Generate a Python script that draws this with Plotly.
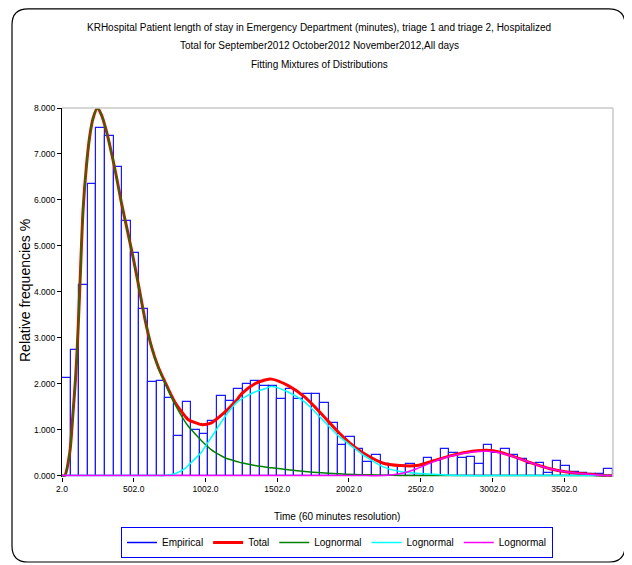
import plotly.graph_objects as go

# ---------------- data ----------------
bin_start = 2
bin_width = 60
empirical = [2.12, 2.74, 4.15, 6.34, 7.56, 7.40, 6.72, 5.55, 4.84, 3.62,
             2.03, 2.07, 1.68, 0.87, 1.60, 1.00, 0.91, 1.18, 1.73, 1.62,
             1.89, 2.00, 2.07, 1.95, 1.94, 1.67, 1.89, 1.67, 1.77, 1.77,
             1.58, 1.15, 0.67, 0.84, 0.57, 0.30, 0.44, 0.26, 0.22, 0.20,
             0.25, 0.20, 0.38, 0.31, 0.58, 0.50, 0.38, 0.40, 0.25, 0.66,
             0.50, 0.58, 0.44, 0.37, 0.26, 0.27, 0.06, 0.32, 0.22, 0.08,
             0.05, 0.03, 0.03, 0.14]

curve_x = [2, 21, 56, 79, 96, 109, 125, 149, 172, 195, 218, 249, 277, 312, 347,
           381, 416, 451, 486, 521, 544, 579, 626, 672, 718, 788, 858, 881, 950, 974,
           1044, 1067, 1137, 1160, 1229, 1253, 1346, 1416, 1462, 1578, 1695, 1811, 1927, 2043, 2125,
           2241, 2357, 2474, 2589, 2706, 2822, 2962, 3055, 3171, 3287, 3403, 3520, 3636, 3752, 3842]

total = [0, 0, 0.5, 1.38, 2.1, 2.83, 4.0, 5.79, 6.73, 7.38, 7.77, 8.0, 7.85, 7.49, 7.02,
         6.51, 5.94, 5.43, 4.92, 4.38, 4.0, 3.42, 2.8, 2.37, 2.05, 1.6, 1.3, 1.22, 1.13, 1.11,
         1.15, 1.2, 1.38, 1.45, 1.68, 1.78, 2.0, 2.08, 2.1, 1.96, 1.71, 1.34, 0.95, 0.62, 0.45,
         0.27, 0.22, 0.22, 0.32, 0.43, 0.51, 0.55, 0.51, 0.39, 0.26, 0.15, 0.08, 0.04, 0.01, 0]

lognormal1 = [0, 0, 0.5, 1.38, 2.1, 2.83, 4.0, 5.79, 6.73, 7.38, 7.77, 8.0, 7.85, 7.49, 7.02,
              6.51, 5.94, 5.43, 4.92, 4.38, 4.0, 3.42, 2.8, 2.36, 2.03, 1.56, 1.18, 1.08, 0.84, 0.76,
              0.56, 0.51, 0.39, 0.36, 0.3, 0.28, 0.22, 0.19, 0.17, 0.13, 0.09, 0.06, 0.04, 0.025, 0.018,
              0.01, 0.005, 0.002, 0, 0, 0, 0, 0, 0, 0, 0, 0, 0, 0, 0]

lognormal2 = [0, 0, 0, 0, 0, 0, 0, 0, 0, 0, 0, 0, 0, 0, 0,
              0, 0, 0, 0, 0, 0, 0, 0, 0, 0, 0.04, 0.15, 0.22, 0.43, 0.51,
              0.84, 0.95, 1.28, 1.38, 1.62, 1.67, 1.82, 1.89, 1.94, 1.82, 1.6, 1.24, 0.87, 0.59, 0.4,
              0.19, 0.09, 0.05, 0.03, 0.01, 0, 0, 0, 0, 0, 0, 0, 0, 0, 0]

lognormal3 = [0, 0, 0, 0, 0, 0, 0, 0, 0, 0, 0, 0, 0, 0, 0,
              0, 0, 0, 0, 0, 0, 0, 0, 0, 0, 0, 0, 0, 0, 0,
              0, 0, 0, 0, 0, 0, 0, 0, 0, 0, 0, 0, 0, 0, 0,
              0, 0.04, 0.15, 0.3, 0.42, 0.5, 0.53, 0.5, 0.39, 0.26, 0.15, 0.08, 0.04, 0.01, 0]

x_tick_vals = [2, 502, 1002, 1502, 2002, 2502, 3002, 3502]
x_tick_text = ["2.0", "502.0", "1002.0", "1502.0", "2002.0", "2502.0", "3002.0", "3502.0"]
y_tick_vals = [0, 1, 2, 3, 4, 5, 6, 7, 8]
y_tick_text = ["0.000", "1.000", "2.000", "3.000", "4.000", "5.000", "6.000", "7.000", "8.000"]

title_lines = [
    "KRHospital Patient length of stay in Emergency Department (minutes), triage 1 and triage 2, Hospitalized",
    "Total for September2012 October2012 November2012,All days",
    "Fitting Mixtures of Distributions",
]

# ---------------- figure ----------------
FONT = "Liberation Sans, Arial, sans-serif"

OFF = 8                      # page body margin
W, H = 632 - OFF, 565 - OFF
L, R, T, B = 54, 19, 100, 88
pw, ph = W - L - R, H - T - B

def px2x(page_px):
    return (page_px - OFF - L) / pw

def py2y(page_py):
    return (H - B - (page_py - OFF)) / ph

bin_centers = [bin_start + bin_width * (i + 0.5) for i in range(len(empirical))]

fig = go.Figure()
fig.add_trace(go.Bar(x=bin_centers, y=empirical, width=bin_width,
                     marker=dict(color="white", line=dict(color="#1a1aff", width=1.2)),
                     showlegend=False, hoverinfo="skip"))
fig.add_trace(go.Scatter(x=[None], y=[None], mode="lines", name="Empirical",
                         line=dict(color="#0000ff", width=1.5)))
fig.add_trace(go.Scatter(x=curve_x, y=total, mode="lines", name="Total",
                         line=dict(color="#ff0000", width=3, shape="spline", smoothing=0.8)))
fig.add_trace(go.Scatter(x=curve_x, y=lognormal1, mode="lines", name="Lognormal",
                         line=dict(color="#008000", width=1.5, shape="spline", smoothing=0.8)))
fig.add_trace(go.Scatter(x=curve_x, y=lognormal2, mode="lines", name="Lognormal",
                         line=dict(color="#00ffff", width=1.5, shape="spline", smoothing=0.8)))
fig.add_trace(go.Scatter(x=curve_x, y=lognormal3, mode="lines", name="Lognormal",
                         line=dict(color="#ff00ff", width=1.5, shape="spline", smoothing=0.8)))

annotations = []
for i, line in enumerate(title_lines):
    annotations.append(dict(text=line, x=px2x(319), y=py2y(28 + 18 * i), xref="paper", yref="paper",
                            xanchor="center", yanchor="middle", showarrow=False,
                            font=dict(family=FONT, size=10, color="black")))
annotations.append(dict(text="Relative frequencies %", x=px2x(25), y=py2y(291), xref="paper", yref="paper",
                        textangle=-90, xanchor="center", yanchor="middle", showarrow=False,
                        font=dict(family=FONT, size=14, color="black")))
annotations.append(dict(text="Time (60 minutes resolution)", x=px2x(337), y=py2y(516), xref="paper",
                        yref="paper", xanchor="center", yanchor="middle", showarrow=False,
                        font=dict(family=FONT, size=10, color="black")))

# rounded outer border
x0, x1 = px2x(12), px2x(625)
y0, y1 = py2y(562), py2y(OFF + 0.8)
rx, ry = 16 / pw, 16 / ph
path = (f"M {x0+rx},{y1} L {x1-rx},{y1} Q {x1},{y1} {x1},{y1-ry} L {x1},{y0+ry} "
        f"Q {x1},{y0} {x1-rx},{y0} L {x0+rx},{y0} Q {x0},{y0} {x0},{y0+ry} "
        f"L {x0},{y1-ry} Q {x0},{y1} {x0+rx},{y1} Z")

shapes = [
    dict(type="path", path=path, xref="paper", yref="paper", line=dict(color="black", width=1.2)),
    dict(type="line", x0=0, x1=1, y0=1, y1=1, xref="paper", yref="paper",
         line=dict(color="#c8c8c8", width=1.5)),
    dict(type="line", x0=1, x1=1, y0=0, y1=1, xref="paper", yref="paper",
         line=dict(color="#c8c8c8", width=1.5)),
]

fig.update_layout(
    width=W, height=H,
    margin=dict(l=L, r=R, t=T, b=B),
    paper_bgcolor="white", plot_bgcolor="white",
    bargap=0,
    annotations=annotations,
    shapes=shapes,
    showlegend=True,
    legend=dict(orientation="h", x=px2x(337), xanchor="center", xref="paper",
                y=1 - (558 - OFF) / H, yanchor="bottom", yref="container",
                bordercolor="#0000ff", borderwidth=1, bgcolor="white",
                font=dict(family=FONT, size=10, color="black"),
                itemwidth=30, tracegroupgap=0),
    xaxis=dict(range=[2, 3842], tickvals=x_tick_vals, ticktext=x_tick_text,
               ticks="outside", ticklen=4, tickcolor="black", showgrid=False, zeroline=False,
               showline=False, layer="below traces",
               tickfont=dict(family=FONT, size=8.5, color="black")),
    yaxis=dict(range=[-0.03, 8], tickvals=y_tick_vals, ticktext=y_tick_text,
               ticks="outside", ticklen=4, tickcolor="black", showgrid=False, zeroline=False,
               showline=True, linecolor="black", linewidth=1.2,
               tickfont=dict(family=FONT, size=8.5, color="black")),
)

fig.write_html("out.html")
